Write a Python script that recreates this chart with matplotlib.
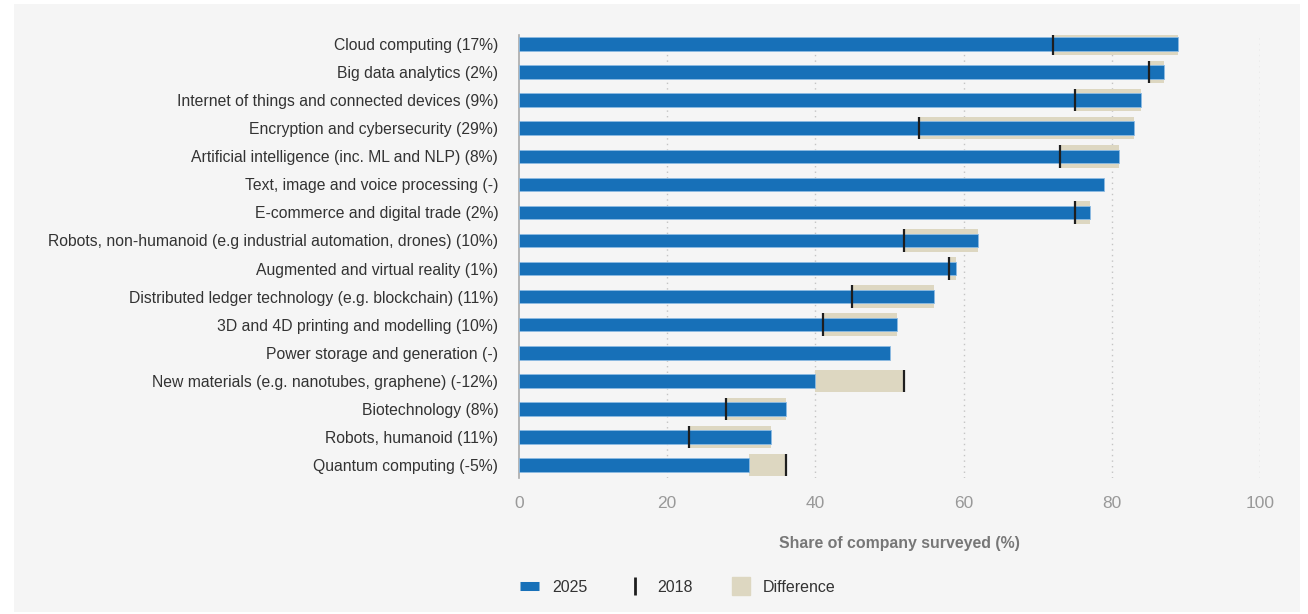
import matplotlib.pyplot as plt
from matplotlib.lines import Line2D
from matplotlib.patches import Rectangle

# technologies, top to bottom
categories = [
    "Cloud computing (17%)",
    "Big data analytics (2%)",
    "Internet of things and connected devices (9%)",
    "Encryption and cybersecurity (29%)",
    "Artificial intelligence (inc. ML and NLP) (8%)",
    "Text, image and voice processing (-)",
    "E-commerce and digital trade (2%)",
    "Robots, non-humanoid (e.g industrial automation, drones) (10%)",
    "Augmented and virtual reality (1%)",
    "Distributed ledger technology (e.g. blockchain) (11%)",
    "3D and 4D printing and modelling (10%)",
    "Power storage and generation (-)",
    "New materials (e.g. nanotubes, graphene) (-12%)",
    "Biotechnology (8%)",
    "Robots, humanoid (11%)",
    "Quantum computing (-5%)",
]
share_2025 = [89, 87, 84, 83, 81, 79, 77, 62, 59, 56, 51, 50, 40, 36, 34, 31]
# None = no 2018 figure
share_2018 = [72, 85, 75, 54, 73, None, 75, 52, 58, 45, 41, None, 52, 28, 23, 36]
ticks = [0, 20, 40, 60, 80, 100]

BLUE = "#1770b8"
BEIGE = "#ddd7c1"
BG = "#f5f5f5"

fig = plt.figure(figsize=(13.08, 6.14), dpi=100, facecolor="white")
# grey panel behind everything
fig.patches.append(Rectangle((14 / 1308, 2 / 614), 1286 / 1308, 608 / 614,
                             transform=fig.transFigure, facecolor=BG,
                             edgecolor="none", zorder=-10))

ax = fig.add_axes([519 / 1308, 136 / 614, 741 / 1308, 443 / 614])
ax.patch.set_alpha(0)

y = list(range(len(categories)))
for i in y:
    old = share_2018[i]
    new = share_2025[i]
    if old is not None:
        lo, hi = min(old, new), max(old, new)
        ax.barh(i, hi - lo, left=lo, height=0.8, color=BEIGE, zorder=2)
    ax.barh(i, new, height=0.48, color=BLUE, edgecolor="#8dbbe3",
            linewidth=0.6, zorder=3)
    if old is not None:
        ax.plot([old, old], [i - 0.4, i + 0.4], color="#1e1e1e", lw=1.6,
                solid_capstyle="butt", zorder=4)

ax.set_xlim(0, 100)
ax.set_ylim(15.46, -0.32)
ax.set_yticks(y)
ax.set_yticklabels(categories, fontsize=11.3, color="#333333",
                   family="Liberation Sans")
ax.set_xticks(ticks)
ax.set_xticklabels([str(t) for t in ticks], fontsize=12.5, color="#999999",
                   family="Liberation Sans")
ax.tick_params(axis="x", length=0, pad=13)
ax.tick_params(axis="y", length=0, pad=15)

for t in ticks[1:]:
    ax.axvline(t, color="#c4c4c4", lw=1, ls=(0, (1, 3)), zorder=1)

for s in ["top", "right", "bottom"]:
    ax.spines[s].set_visible(False)
ax.spines["left"].set_color("#aaaaaa")
ax.spines["left"].set_linewidth(1.2)

ax.set_xlabel("Share of company surveyed (%)", fontsize=11.4,
              color="#777777", fontweight="bold", family="Liberation Sans",
              labelpad=18)
ax.xaxis.label.set_x((899 - 519) / 741)

handles = [
    Line2D([], [], color=BLUE, lw=6.5, solid_capstyle="butt"),
    Line2D([], [], color="#1e1e1e", marker="|", markersize=13, mew=2,
           linestyle="none"),
    Line2D([], [], color=BEIGE, marker="s", markersize=13, linestyle="none"),
]
fig.legend(handles, ["2025", "2018", "Difference"], loc="center",
           bbox_to_anchor=(678 / 1308, 27 / 614), ncol=3, frameon=False,
           handlelength=1.2, columnspacing=2.4, handletextpad=0.8,
           prop={"family": "Liberation Sans", "size": 11.5})
for txt in fig.legends[0].get_texts():
    txt.set_color("#333333")

fig.savefig("out.png", dpi=100, facecolor="white")
